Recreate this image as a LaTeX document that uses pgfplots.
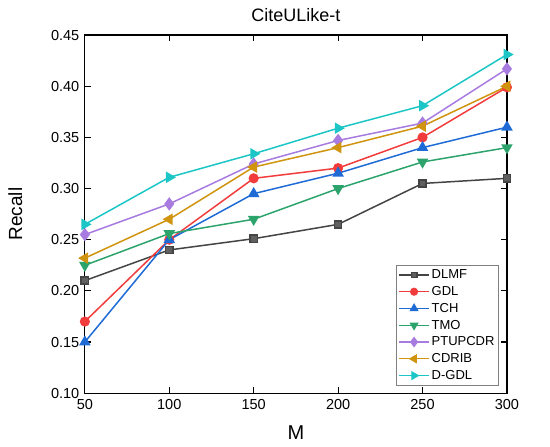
\documentclass[border=0pt]{standalone}
\usepackage{pgfplots}
\pgfplotsset{compat=1.18}
\usepackage{fontspec}
\setmainfont{Liberation Sans}

\definecolor{cDLMF}{HTML}{444444}
\definecolor{cGDL}{HTML}{F23C3C}
\definecolor{cTCH}{HTML}{1F6BD6}
\definecolor{cTMO}{HTML}{2BA36B}
\definecolor{cPTU}{HTML}{A87BE0}
\definecolor{cCDR}{HTML}{D0940F}
\definecolor{cDGD}{HTML}{1CC6C6}

\begin{document}
\begin{tikzpicture}
\begin{axis}[
  scale only axis,
  width=422pt, height=358pt,
  xmin=50, xmax=300, ymin=0.10, ymax=0.45,
  xtick={50,100,...,300},
  ytick={0.10,0.15,...,0.46},
  yticklabel style={xshift=-2pt, /pgf/number format/fixed, /pgf/number format/fixed zerofill, /pgf/number format/precision=2},
  /pgf/number format/assume math mode=true,
  tick align=inside,
  major tick length=6pt,
  tick style={black, line width=1.2pt},
  axis line style={line width=1.2pt},
  ticklabel style={font=\fontsize{14.5}{16}\selectfont},
  xticklabel style={yshift=-3pt},
  xlabel={M}, ylabel={Recall},
  xlabel style={font=\fontsize{20}{22}\selectfont, yshift=-9pt},
  ylabel style={font=\fontsize{19}{21}\selectfont, yshift=22pt},
  title={CiteULike-t},
  title style={font=\fontsize{18}{20}\selectfont, yshift=4pt},
  every axis plot/.append style={line width=1.5pt},
  legend style={at={(rel axis cs:0.981,0.022)}, anchor=south east,
    font=\fontsize{13}{15}\selectfont, draw=gray, line width=0.8pt,
    row sep=2.2pt, inner sep=2pt},
  legend cell align=left,
  legend image code/.code={
    \draw[mark repeat=2, mark phase=2, #1, line width=1.2pt, every mark/.append style={scale=0.8}]
      plot coordinates {(0pt,0pt) (15pt,0pt) (30pt,0pt)};},
]
\addplot[color=cDLMF, mark=square*, mark size=3.6pt, mark options={fill=cDLMF!85}] coordinates {
  (50,0.210) (100,0.240) (150,0.251) (200,0.265) (250,0.305) (300,0.310)};
\addlegendentry{DLMF}
\addplot[color=cGDL, mark=*, mark size=4.3pt] coordinates {
  (50,0.170) (100,0.250) (150,0.310) (200,0.320) (250,0.350) (300,0.399)};
\addlegendentry{GDL}
\addplot[color=cTCH, mark=triangle*, mark size=5.2pt] coordinates {
  (50,0.150) (100,0.250) (150,0.295) (200,0.315) (250,0.340) (300,0.360)};
\addlegendentry{TCH}
\addplot[color=cTMO, mark=triangle*, mark size=5.2pt, mark options={rotate=180}] coordinates {
  (50,0.225) (100,0.256) (150,0.270) (200,0.300) (250,0.326) (300,0.340)};
\addlegendentry{TMO}
\addplot[color=cPTU, mark=diamond*, mark size=5.5pt] coordinates {
  (50,0.255) (100,0.285) (150,0.324) (200,0.347) (250,0.364) (300,0.417)};
\addlegendentry{PTUPCDR}
\addplot[color=cCDR, mark=triangle*, mark size=5.2pt, mark options={rotate=90}] coordinates {
  (50,0.232) (100,0.270) (150,0.321) (200,0.340) (250,0.361) (300,0.400)};
\addlegendentry{CDRIB}
\addplot[color=cDGD, mark=triangle*, mark size=5.2pt, mark options={rotate=-90}] coordinates {
  (50,0.265) (100,0.311) (150,0.334) (200,0.359) (250,0.381) (300,0.431)};
\addlegendentry{D-GDL}
\coordinate (bl) at (rel axis cs:-0.201,-0.148);
\coordinate (tr) at (rel axis cs:1.102,1.098);
\end{axis}
\path (bl) rectangle (tr);
\end{tikzpicture}
\end{document}
